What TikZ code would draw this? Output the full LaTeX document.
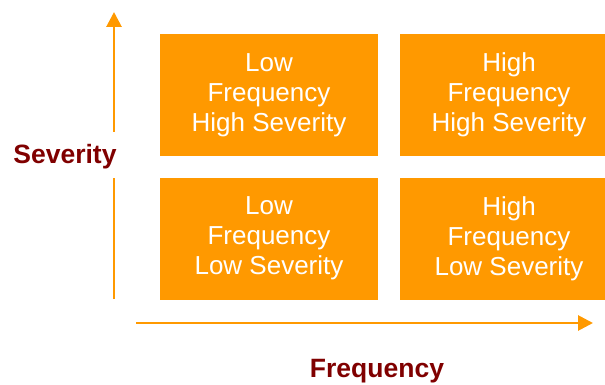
\documentclass[tikz,border=0pt]{standalone}
\usepackage{fontspec}
\setmainfont{Liberation Sans}
\usepackage{tikz}
\usetikzlibrary{positioning,arrows.meta}
\definecolor{Tangerine}{RGB}{255,153,0}
\definecolor{Maroon}{RGB}{128,0,0}

\begin{document}
\begin{tikzpicture}[x=1pt,y=-1pt,
  cell/.style={fill=Tangerine, text=white, align=center, minimum width=218pt, minimum height=122pt, inner sep=0pt, font=\fontsize{26}{30}\selectfont},
  axis/.style={Tangerine, line width=2.8pt},
  axislabel/.style={text=Maroon, font=\fontsize{26.5}{30}\selectfont\bfseries}]
\clip (0,0) rectangle (605,385);

\node[cell] (lh) at (269,95) {Low\\Frequency\\High Severity};
\node[cell] (hh) at (509,95) {High\\Frequency\\High Severity};
\node[cell] (ll) at (269,238.5) {Low\\Frequency\\Low Severity};
\node[cell] (hl) at (509,238.5) {High\\Frequency\\Low Severity};

\node[axislabel] (sev) at (65,157) {Severity};
\node[axislabel] (freq) at (377,371) {Frequency};

\coordinate (vbot) at (114,299);
\coordinate (vlow) at (114,178);
\coordinate (vup) at (114,132);
\coordinate (vtop) at (114,12);
\coordinate (hleft) at (136,323);
\coordinate (hright) at (593,323);

\draw[axis] (vbot) -- (vlow);
\draw[axis, -{Triangle[width=15pt,length=15pt]}] (vup) -- (vtop);
\draw[axis, -{Triangle[width=15pt,length=15pt]}] (hleft) -- (hright);
\end{tikzpicture}
\end{document}
